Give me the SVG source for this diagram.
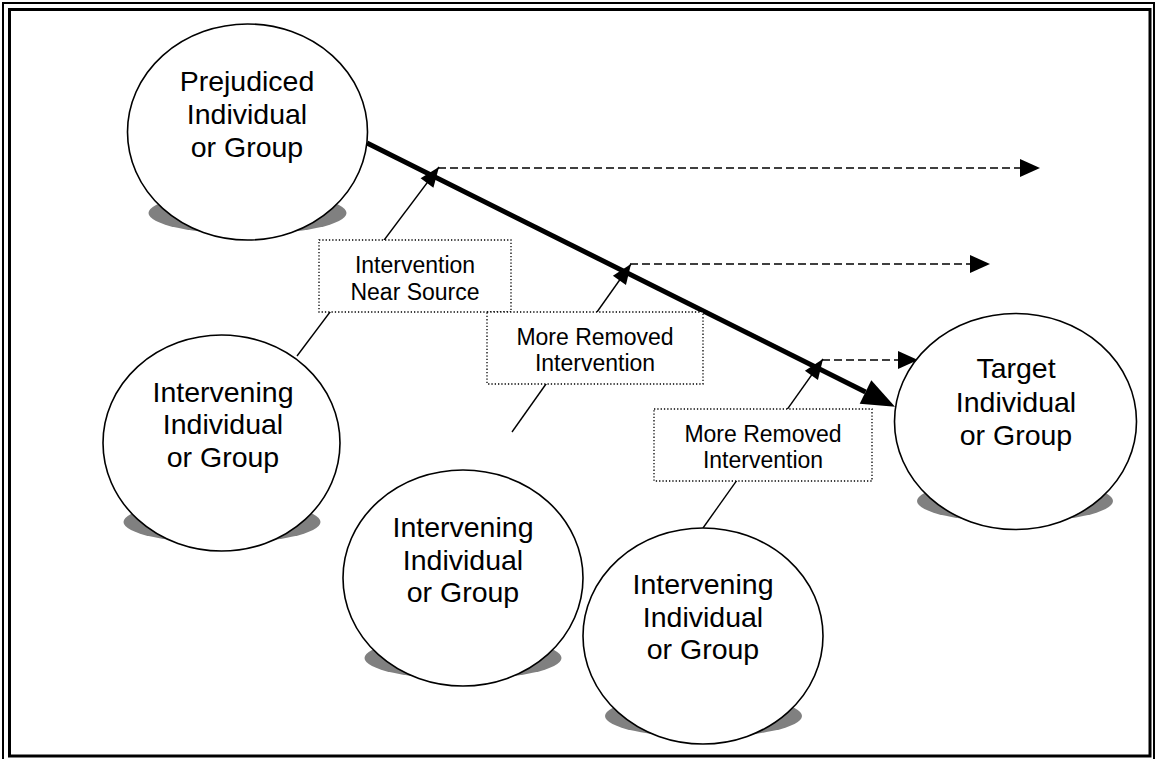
<svg xmlns="http://www.w3.org/2000/svg" width="1157" height="759" viewBox="0 0 1157 759">
  <style>
    .shadow { fill: #808080; stroke: none; }
    .node { fill: #ffffff; stroke: #000000; stroke-width: 1.6; }
    .big { font-family: "Liberation Sans", Arial, sans-serif; font-size: 28.5px; fill: #000000; text-anchor: middle; }
    .small { font-family: "Liberation Sans", Arial, sans-serif; font-size: 23px; fill: #000000; text-anchor: middle; }
    .box { fill: #ffffff; stroke: #000000; stroke-width: 1.3; stroke-dasharray: 1.3 2; }
    .main { stroke: #000000; stroke-width: 5; fill: none; }
    .thin { stroke: #000000; stroke-width: 1.4; fill: none; }
    .dash { stroke: #000000; stroke-width: 1.6; fill: none; stroke-dasharray: 8 4; }
  </style>
  <defs>
    <marker id="headBig" markerUnits="userSpaceOnUse" markerWidth="34" markerHeight="28" refX="0" refY="13" orient="auto" overflow="visible">
      <path d="M0,0 L33,13 L0,26 z" fill="#000000"/>
    </marker>
    <marker id="headSmall" markerUnits="userSpaceOnUse" markerWidth="22" markerHeight="18" refX="20" refY="8" orient="auto" overflow="visible">
      <path d="M0,0 L20,8 L0,16 z" fill="#000000"/>
    </marker>
    <marker id="headDash" markerUnits="userSpaceOnUse" markerWidth="22" markerHeight="20" refX="0" refY="9" orient="auto" overflow="visible">
      <path d="M0,0 L20,9 L0,18 z" fill="#000000"/>
    </marker>
  </defs>

  <rect x="0" y="0" width="1157" height="759" fill="#ffffff"/>

  <!-- double frame -->
  <g id="frame" fill="none" stroke="#000000">
    <rect x="3" y="3" width="1151" height="760" stroke-width="2"/>
    <rect x="9.5" y="9.5" width="1140.5" height="746.5" stroke-width="3"/>
  </g>

  <!-- connectors -->
  <g id="connectors">
    <!-- main influence line, source to target -->
    <line class="main" x1="367" y1="143" x2="865.5" y2="392" marker-end="url(#headBig)"/>
    <!-- interventions pointing at the main line -->
    <line class="thin" x1="297" y1="356" x2="439" y2="167" marker-end="url(#headSmall)"/>
    <line class="thin" x1="512" y1="432" x2="631" y2="264" marker-end="url(#headSmall)"/>
    <line class="thin" x1="703" y1="528" x2="823" y2="359" marker-end="url(#headSmall)"/>
    <!-- diverted paths -->
    <line class="dash" x1="438" y1="168" x2="1020" y2="168" marker-end="url(#headDash)"/>
    <line class="dash" x1="630" y1="264" x2="970" y2="264" marker-end="url(#headDash)"/>
    <line class="dash" x1="822" y1="360" x2="898" y2="360" marker-end="url(#headDash)"/>
  </g>

  <g id="prejudiced">
    <ellipse class="shadow" cx="247.5" cy="213" rx="99" ry="21"/>
    <ellipse class="node" cx="247.5" cy="132" rx="120" ry="108"/>
    <text class="big" x="247" y="91">Prejudiced</text>
    <text class="big" x="247" y="124">Individual</text>
    <text class="big" x="247" y="157">or Group</text>
  </g>

  <g id="intervening1">
    <ellipse class="shadow" cx="222" cy="522" rx="98.5" ry="21"/>
    <ellipse class="node" cx="221.5" cy="443" rx="118.5" ry="108"/>
    <text class="big" x="223" y="402">Intervening</text>
    <text class="big" x="223" y="434">Individual</text>
    <text class="big" x="223" y="467">or Group</text>
  </g>

  <g id="intervening2">
    <ellipse class="shadow" cx="463" cy="658" rx="98.5" ry="21"/>
    <ellipse class="node" cx="463" cy="578" rx="120" ry="108"/>
    <text class="big" x="463" y="537">Intervening</text>
    <text class="big" x="463" y="570">Individual</text>
    <text class="big" x="463" y="602">or Group</text>
  </g>

  <g id="intervening3">
    <ellipse class="shadow" cx="703.5" cy="716" rx="98.5" ry="21"/>
    <ellipse class="node" cx="703" cy="636" rx="120" ry="108"/>
    <text class="big" x="703" y="594">Intervening</text>
    <text class="big" x="703" y="627">Individual</text>
    <text class="big" x="703" y="659">or Group</text>
  </g>

  <g id="target">
    <ellipse class="shadow" cx="1015" cy="501" rx="98" ry="21"/>
    <ellipse class="node" cx="1015.5" cy="421.5" rx="121" ry="108"/>
    <text class="big" x="1016" y="378">Target</text>
    <text class="big" x="1016" y="412">Individual</text>
    <text class="big" x="1016" y="445">or Group</text>
  </g>

  <g id="near-source">
    <rect class="box" x="319" y="240" width="192" height="72"/>
    <text class="small" x="415" y="273">Intervention</text>
    <text class="small" x="415" y="300">Near Source</text>
  </g>

  <g id="removed1">
    <rect class="box" x="487" y="312" width="216" height="72"/>
    <text class="small" x="595" y="345">More Removed</text>
    <text class="small" x="595" y="371">Intervention</text>
  </g>

  <g id="removed2">
    <rect class="box" x="654" y="409" width="218" height="72"/>
    <text class="small" x="763" y="442">More Removed</text>
    <text class="small" x="763" y="468">Intervention</text>
  </g>
</svg>
